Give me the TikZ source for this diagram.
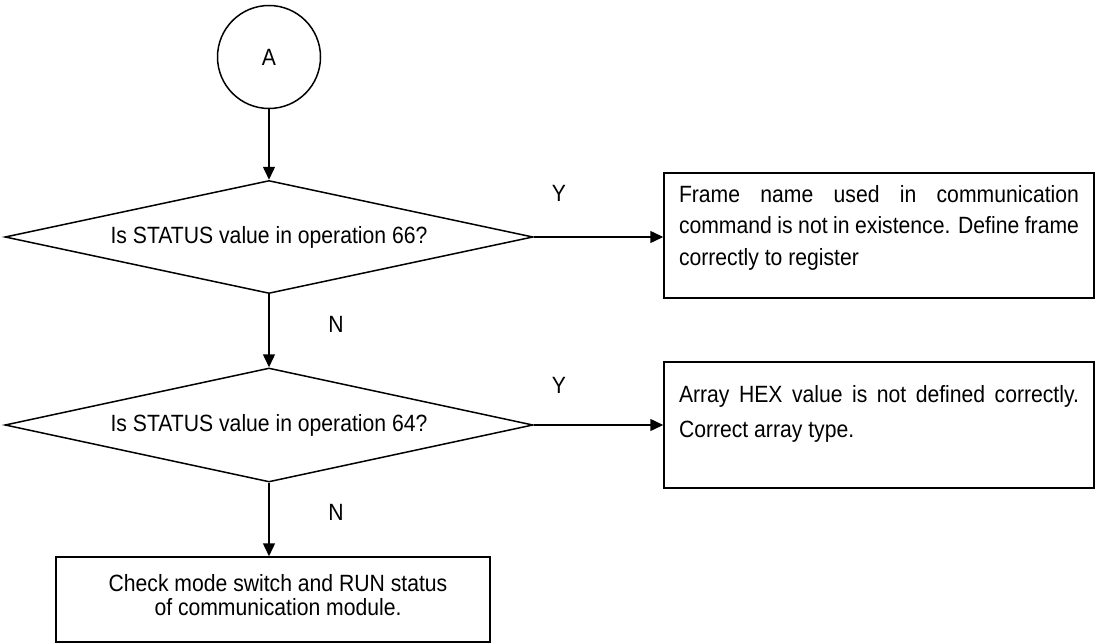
\documentclass[tikz,border=0pt]{standalone}
\usepackage{fontspec}
\setmainfont{Liberation Sans}[FakeStretch=0.9]
\usepackage{pgf,tikz}
\usetikzlibrary{arrows.meta}
\usetikzlibrary{shapes.geometric}

\begin{document}
\begin{tikzpicture}[x=1bp,y=-1bp,line width=1.5bp,>={Triangle[length=13bp,width=12bp]}]
  \fontsize{23.6}{28}\selectfont
  \useasboundingbox (0,0) rectangle (1098,644);
  \node[draw, circle, inner sep=0pt, minimum size=103bp] (A) at (269,57) {A};
  \node[draw, diamond, shape aspect=4.6, inner sep=1bp, minimum width=528bp,
    minimum height=113bp] (Q66) at (269,237) {Is STATUS value in operation 66?};
  \node[draw, diamond, shape aspect=4.6, inner sep=1bp, minimum width=528bp,
    minimum height=114bp] (Q64) at (269,425) {Is STATUS value in operation 64?};
  \node[draw, rectangle, inner xsep=15bp, inner ysep=12bp] (Frame) at (879,235.5) {%
    \parbox[c][101bp][t]{400bp}{\baselineskip=31.5bp
      \makebox[\linewidth][s]{Frame name used in communication}\\
      \makebox[\linewidth][s]{command is not in existence. Define frame}\\
      correctly to register}};
  \node[draw, rectangle, inner xsep=15bp, inner ysep=23bp] (Array) at (879,425) {%
    \parbox[c][80bp][t]{400bp}{\baselineskip=35bp
      \makebox[\linewidth][s]{Array HEX value is not defined correctly.}\\
      Correct array type.}};
  \node[draw, rectangle, inner xsep=17bp, inner ysep=17bp] (Check) at (273,599.5) {%
    \parbox[c][51bp][t]{400bp}{\centering\baselineskip=24bp
      \hspace*{10bp}Check mode switch and RUN status\\
      \hspace*{10bp}of communication module.}};
  \node (Y66) at (559,193) {Y};
  \node (Y64) at (559,385) {Y};
  \node (N66) at (336,324) {N};
  \node (N64) at (336,512) {N};
  \draw[->] (A) -- (Q66);
  \draw[->] (Q66) -- (Q64);
  \draw[->] (Q64.south) -- (Q64.south |- Check.north);
  \draw[->] (Q66.east) -- (Q66.east -| Frame.west);
  \draw[->] (Q64.east) -- (Q64.east -| Array.west);
\end{tikzpicture}
\end{document}
